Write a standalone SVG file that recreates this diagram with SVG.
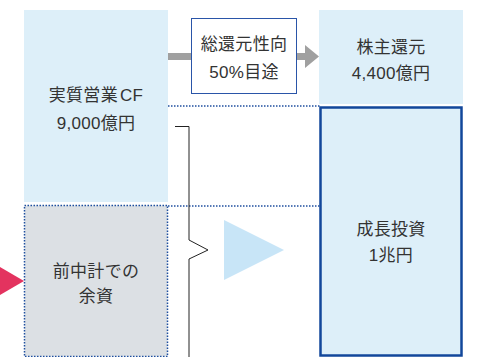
<svg xmlns="http://www.w3.org/2000/svg" width="484" height="357" viewBox="0 0 484 357">
<style>
text{font-family:"Liberation Sans","Noto Sans CJK JP",sans-serif;font-size:17px;letter-spacing:0.3px;fill:#333;text-anchor:middle}
.dot{stroke:#1f4f9f;stroke-width:1.5;stroke-dasharray:1.5 1.5;fill:none}
</style>
<rect width="484" height="357" fill="#fff"/>
<g id="cf">
<rect x="24" y="10" width="144" height="192" fill="#ddeff9"/>
<text x="96" y="101">実質営業<tspan dx="2">CF</tspan></text>
<text x="96" y="129">9,000億円</text>
</g>
<g id="surplus">
<rect x="24.5" y="205.5" width="143" height="151" class="dot" style="fill:#dce0e4"/>
<text x="96" y="277">前中計での</text>
<text x="96" y="302">余資</text>
</g>
<g id="policy">
<rect x="191.5" y="18.5" width="105" height="75" fill="#fff" stroke="#2a55a8" stroke-width="1"/>
<text x="244" y="50">総還元性向</text>
<text x="244" y="78">50%目途</text>
</g>
<g id="return">
<rect x="319" y="10" width="144" height="94" fill="#ddeff9"/>
<text x="391" y="53">株主還元</text>
<text x="391" y="79">4,400億円</text>
</g>
<g id="growth">
<rect x="320.5" y="107.5" width="141" height="248" fill="#ddeff9" stroke="#12479b" stroke-width="2.5"/>
<text x="391" y="235">成長投資</text>
<text x="391" y="261">1兆円</text>
</g>
<g id="connectors">
<line x1="168" y1="106" x2="320" y2="106" class="dot"/>
<line x1="168" y1="206" x2="320" y2="206" class="dot"/>
<rect x="168" y="53" width="23" height="7" fill="#a0a0a0"/>
<polygon points="297,53 305,53 305,45 319,56.5 305,68 305,60 297,60" fill="#a0a0a0"/>
<polyline points="175,126.5 189,126.5 189,240 208,250 189,259 189,357" fill="none" stroke="#222" stroke-width="1"/>
<polygon points="224,220 284,250 224,280" fill="#c8e5f7"/>
<polygon points="0,267 24,281 0,295" fill="#e3335f"/>
</g>
</svg>
